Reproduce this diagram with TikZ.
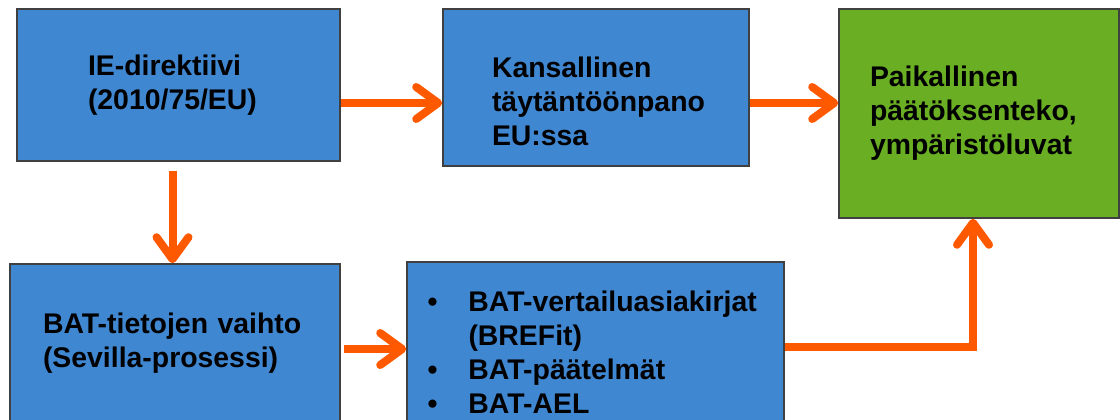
\documentclass[tikz,border=0pt]{standalone}
\usepackage{fontspec}
\setmainfont{Liberation Sans}
\usepackage{tikz}
\usetikzlibrary{arrows.meta}
\definecolor{boxblue}{RGB}{64,135,210}
\definecolor{boxgreen}{RGB}{106,174,35}
\definecolor{flowred}{RGB}{255,89,0}
\hyphenpenalty=10000
\exhyphenpenalty=10000
\newcommand{\bul}{\makebox[1.025cm][l]{\textbullet}}

\begin{document}
\begin{tikzpicture}[line join=miter]
		\tikzstyle{box}=[rectangle, fill=boxblue, draw=black!75, line width=0.04cm, align=left, inner sep=0pt,
			font=\fontsize{20.2}{24.2}\selectfont\bfseries]
		\tikzstyle{flow}=[draw=flowred, line width=0.2cm, -{Straight Barb[length=0.55cm,width=0.8cm,round]}]
		\useasboundingbox (0,0) rectangle (28,-10.475);

		% Draw different boxes
		\node[box, minimum width=8.075cm, minimum height=3.8cm, text width=4.525cm] (ie) at (4.4625,-2.125) {IE-direktiivi\\(2010/75/EU)};
		\node[box, minimum width=7.65cm, minimum height=3.925cm, text width=5.2cm, text height=1.2cm] (nat) at (14.9,-2.1875) {Kansallinen\\täytäntöönpano\\EU:ssa};
		\node[box, fill=boxgreen, minimum width=7cm, minimum height=5.225cm, text width=5.45cm] (loc) at (24.475,-2.8375) {Paikallinen\\päätöksenteko,\\ympäristöluvat};
		\node[box, minimum width=8.25cm, minimum height=3.95cm, text width=6.6cm] (bat) at (4.375,-8.575) {BAT-tietojen vaihto\\(Sevilla-prosessi)};
		\node[box, minimum width=9.425cm, minimum height=4.5cm, text width=8.4cm] (ref) at (14.8875,-8.8) {\bul BAT-vertailuasiakirjat\\\hspace*{1.025cm}(BREFit)\\\bul BAT-päätelmät\\\bul BAT-AEL};

		% Draw arrows
		\coordinate (ie-out) at ([yshift=-0.45cm]ie.east);
		\coordinate (nat-out) at ([yshift=-0.3875cm]nat.east);
		\coordinate (ie-down) at ([xshift=-0.15cm]ie.south);
		\coordinate (bat-out) at ([yshift=-0.15cm]bat.east);
		\path (ie-out) edge[flow] (ie-out -| nat.west);
		\path (nat-out) edge[flow] (nat-out -| loc.west);
		\path (ie-down) edge[flow, shorten <=0.225cm] (ie-down |- bat.north);
		\path (bat-out) edge[flow, shorten <=0.075cm] (bat-out -| ref.west);
		\draw[flow] ([yshift=0.125cm]ref.east) -| ([xshift=-0.15cm]loc.south);

\end{tikzpicture}
\end{document}
